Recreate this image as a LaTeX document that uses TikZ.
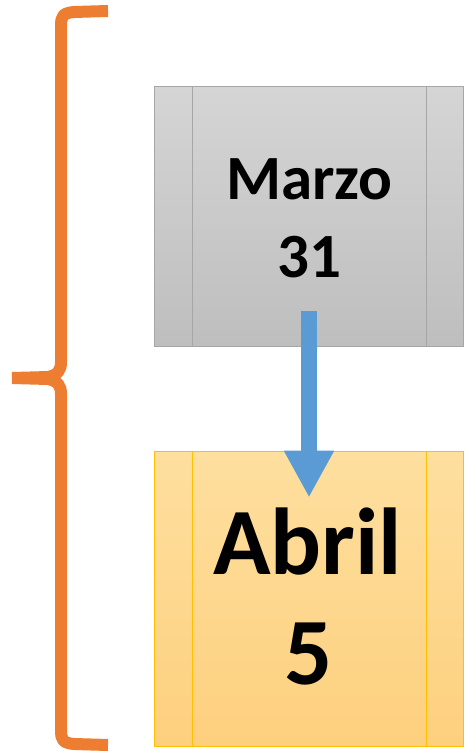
\documentclass[tikz,border=0pt]{standalone}
\usepackage{fontspec}
\newfontfamily\calfont{Carlito}
\usetikzlibrary{arrows.meta}
\definecolor{braceorange}{HTML}{ED7D31}
\definecolor{arrowblue}{HTML}{5B9BD5}
\definecolor{graytop}{HTML}{D5D5D5}
\definecolor{graybot}{HTML}{BEBEBE}
\definecolor{grayedge}{HTML}{A6A6A6}
\definecolor{goldtop}{HTML}{FEDF9F}
\definecolor{goldbot}{HTML}{FDD07E}
\definecolor{goldedge}{HTML}{FFC000}
\tikzset{
  datebox/.style={draw, line width=1pt, minimum width=309pt, minimum height=260pt, inner sep=0pt},
  graybox/.style={datebox, draw=grayedge, top color=graytop, bottom color=graybot},
  goldbox/.style={datebox, draw=goldedge, top color=goldtop, bottom color=goldbot, minimum height=295pt},
  smalltxt/.style={anchor=base, inner sep=0pt, font=\calfont\bfseries\fontsize{63}{76}\selectfont},
  bigtxt/.style={anchor=base, inner sep=0pt, font=\calfont\bfseries\fontsize{95}{110}\selectfont},
  bracepart/.style={braceorange, line width=12pt, line join=round},
}
\begin{document}
\begin{tikzpicture}[x=1pt,y=-1pt]
\useasboundingbox (0,0) rectangle (467,751);
% brace
\draw[bracepart]
  (108,11) -- (74,12) .. controls (63,13) and (61,16) .. (61,26)
  -- (61,362) .. controls (61,370) and (58,375) .. (48,377) -- (12,378);
\draw[bracepart]
  (12,378) -- (48,379) .. controls (58,381) and (61,386) .. (61,394)
  -- (61,730) .. controls (61,740) and (63,743) .. (74,744) -- (108,745);
% boxes
\node[graybox] (marzo) at (309,216.5) {};
\draw[grayedge, line width=1pt] ([xshift=38pt]marzo.north west) -- ([xshift=38pt]marzo.south west);
\draw[grayedge, line width=1pt] ([xshift=-38pt]marzo.north east) -- ([xshift=-38pt]marzo.south east);
\node[goldbox] (abril) at (309,598.5) {};
\draw[goldedge, line width=1pt] ([xshift=38pt]abril.north west) -- ([xshift=38pt]abril.south west);
\draw[goldedge, line width=1pt] ([xshift=-38pt]abril.north east) -- ([xshift=-38pt]abril.south east);
% texts
\node[smalltxt] (m1) at (309.5,200) {Marzo};
\node[smalltxt] (m2) at (309.5,277) {31};
\node[bigtxt] (a1) at (307.5,574) {Abril};
\node[bigtxt] (a2) at (309,684) {5};
% arrow
\draw[arrowblue, line width=16pt, -{Triangle[width=47pt,length=47pt]}]
  ([yshift=36pt]marzo.south) -- ([yshift=-47pt]abril.north);
\end{tikzpicture}
\end{document}
